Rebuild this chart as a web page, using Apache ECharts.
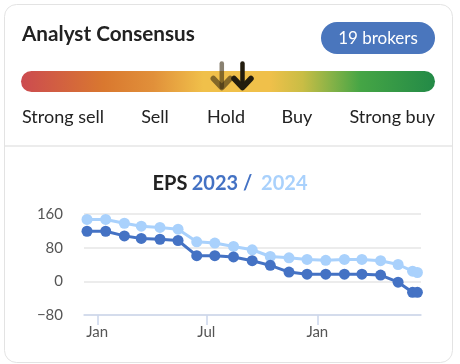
<!DOCTYPE html>
<html><head><meta charset="utf-8">
<script src="https://cdn.jsdelivr.net/npm/echarts@6/dist/echarts.min.js"></script>
<style>html,body{margin:0;padding:0;background:#fff}#c{width:460px;height:364px}</style>
</head><body><div id="c"></div>
<script>
// ---- data ----
const dates = ['2022-12-15','2023-01-15','2023-02-15','2023-03-15','2023-04-15','2023-05-15','2023-06-15','2023-07-15','2023-08-15','2023-09-15','2023-10-15','2023-11-15','2023-12-15','2024-01-15','2024-02-15','2024-03-15','2024-04-15','2024-05-14','2024-06-07','2024-06-15'];
const eps2023 = [119,119,108,102,100,97,61,61,58,49,38,22,17,17,17,17,15,-2,-26,-26];
const eps2024 = [147,147,138,131,128,124,94,91,83,75,59,56,52,50,52,52,49,40,24,21];
const xTickDates = ['2023-01-01','2023-07-01','2024-01-01'];
const xTickLabels = ['Jan','Jul','Jan'];
const xRange = ['2022-12-10','2024-06-21'];
const yRange = [-80,160];
const yStep = 80;
const ratingLabels = ['Strong sell','Sell','Hold','Buy','Strong buy'];
const consensus = [2.94, 3.14]; // previous, current (1 = strong sell ... 5 = strong buy)
const brokers = 19;

// ---- helpers ----
const ts = s => { const [y,m,d] = s.split('-').map(Number); return Date.UTC(y,m-1,d); };
const FONT = 'Lato, "Noto Sans", sans-serif';
const barL = 21, barR = 435, barT = 71, barH = 21;
const arrowX = v => barL + (v-1)/4*(barR-barL);
const tickTs = xTickDates.map(ts);

function arrow(cx, color, opacity){
  return {type:'group', children:[
    {type:'line', shape:{x1:cx,y1:63.5,x2:cx,y2:87}, style:{stroke:color,lineWidth:4.5,lineCap:'round',opacity:opacity}},
    {type:'polyline', shape:{points:[[cx-8.5,78.5],[cx,87.5],[cx+8.5,78.5]]}, style:{stroke:color,fill:null,lineWidth:5.5,lineCap:'round',lineJoin:'round',opacity:opacity}}
  ]};
}

const labelPos = [
  {x:22, align:'left'},{x:155, align:'center'},{x:226, align:'center'},{x:297, align:'center'},{x:435, align:'right'}
];

const chart = echarts.init(document.getElementById('c'), null, {renderer:'canvas'});
chart.setOption({
  animation:false,
  textStyle:{fontFamily:FONT},
  graphic:[
    {type:'rect', z:-10, shape:{x:4.5,y:4.5,width:448,height:358,r:12}, style:{fill:'#fff',stroke:'#e3e3e3',lineWidth:1}},
    {type:'line', shape:{x1:5,y1:146,x2:452,y2:146}, style:{stroke:'#e6e6e6',lineWidth:1.5}},
    {type:'text', x:22, y:34, style:{text:'Analyst Consensus', font:'bold 20.7px '+FONT, fill:'#222', textVerticalAlign:'middle'}},
    {type:'rect', shape:{x:321,y:22,width:114,height:32,r:16}, style:{fill:'#4a76bd'}},
    {type:'text', x:378, y:38.5, style:{text:brokers+' brokers', font:'17px '+FONT, fill:'#fff', textAlign:'center', textVerticalAlign:'middle'}},
    {type:'rect', shape:{x:barL,y:barT,width:barR-barL,height:barH,r:10.5}, style:{fill:{type:'linear',x:0,y:0,x2:1,y2:0,colorStops:[
      {offset:0,color:'#cc4b50'},{offset:0.2,color:'#d9782f'},{offset:0.32,color:'#e1903a'},{offset:0.44,color:'#f0c04a'},{offset:0.6,color:'#f0c04a'},
      {offset:0.68,color:'#c9bd45'},{offset:0.75,color:'#86b247'},{offset:0.82,color:'#45a545'},{offset:1,color:'#238a47'}]}}},
    arrow(arrowX(consensus[0]), '#3a2d12', 0.6),
    arrow(arrowX(consensus[1]), '#221c0e', 1),
    ...ratingLabels.map((t,i)=>({type:'text', x:labelPos[i].x, y:117, style:{text:t, font:'18px '+FONT, fill:'#222', textAlign:labelPos[i].align, textVerticalAlign:'middle'}}))
  ],
  title:{
    left:'center', top:169,
    text:'{a|EPS} {b|2023}{b| /}  {c|2024}',
    textStyle:{rich:{
      a:{fontSize:20,fontWeight:'bold',color:'#222',fontFamily:FONT},
      b:{fontSize:20,fontWeight:'bold',color:'#4472c4',fontFamily:FONT},
      c:{fontSize:20,fontWeight:'bold',color:'#a9d1fc',fontFamily:FONT}
    }}
  },
  grid:{left:84,right:39,top:214,bottom:49,containLabel:false},
  xAxis:{
    type:'value', min:ts(xRange[0]), max:ts(xRange[1]), scale:true,
    axisLine:{onZero:false, lineStyle:{color:'#ccd6eb',width:1.5}},
    axisTick:{show:true, length:10, lineStyle:{color:'#ccd6eb',width:1.5}, customValues:tickTs},
    axisLabel:{customValues:tickTs, margin:10, fontSize:15, color:'#555', fontFamily:FONT,
      formatter:v=>{const i=tickTs.indexOf(v); return i>=0?xTickLabels[i]:'';}},
    splitLine:{show:false}
  },
  yAxis:{
    type:'value', min:yRange[0], max:yRange[1], interval:yStep,
    axisLine:{show:false}, axisTick:{show:false},
    axisLabel:{margin:21, fontSize:15, color:'#555', fontFamily:FONT, formatter:v=>v<0?'\u2212'+Math.abs(v):String(v)},
    splitLine:{lineStyle:{color:'#e6e6e6',width:1.5}}
  },
  series:[
    {type:'line', name:'2024', data:dates.map((d,i)=>[ts(d),eps2024[i]]), symbol:'circle', symbolSize:11, showSymbol:true,
      lineStyle:{width:3,color:'#a9d1fc'}, itemStyle:{color:'#a9d1fc'}},
    {type:'line', name:'2023', data:dates.map((d,i)=>[ts(d),eps2023[i]]), symbol:'circle', symbolSize:11, showSymbol:true,
      lineStyle:{width:3,color:'#4472c4'}, itemStyle:{color:'#4472c4'}}
  ]
});
</script></body></html>
